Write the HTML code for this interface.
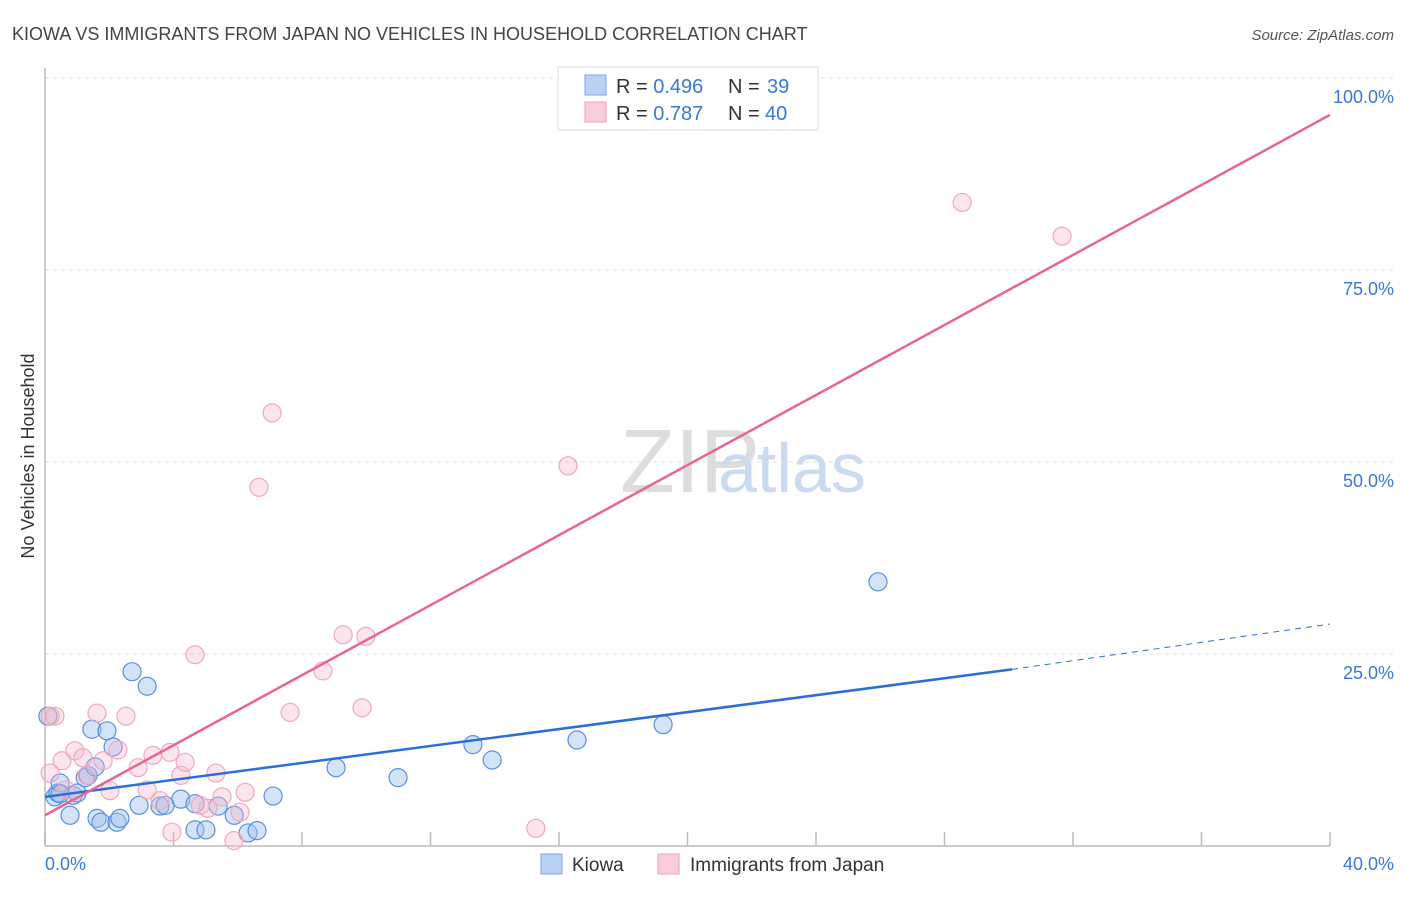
<!DOCTYPE html>
<html><head><meta charset="utf-8"><style>
body{margin:0;background:#fff;font-family:"Liberation Sans",sans-serif;}
svg text{font-family:"Liberation Sans",sans-serif;}
</style></head><body>
<svg id="chart" width="1406" height="892" viewBox="0 0 1406 892" xmlns="http://www.w3.org/2000/svg">
<text x="12" y="40" font-size="18" fill="#444">KIOWA VS IMMIGRANTS FROM JAPAN NO VEHICLES IN HOUSEHOLD CORRELATION CHART</text>
<text x="1394" y="40" font-size="15" fill="#555" text-anchor="end" font-style="italic">Source: ZipAtlas.com</text>
<text x="620" y="492" font-size="90" fill="#ddd" font-family="Liberation Serif">ZIP</text>
<text x="718" y="492" font-size="70" fill="#c9daf2">atlas</text>
<g id="grid"></g>
<g id="axes"></g>
<g id="marks"></g>
<text transform="translate(34,456) rotate(-90)" font-size="18" fill="#333" text-anchor="middle">No Vehicles in Household</text>
<text x="45" y="870" font-size="18" fill="#3a78d8">0.0%</text>
<text x="1394" y="870" font-size="18" fill="#3a78d8" text-anchor="end">40.0%</text>
<g>
<rect x="558" y="67" width="260" height="63" fill="#fff" stroke="#ddd"/>
<rect x="585" y="75" width="21" height="20" fill="#b9d2f3" stroke="#7aa5e6"/>
<rect x="585" y="102" width="21" height="20" fill="#fbccd9" stroke="#f0a0b8"/>
<text x="616" y="93" font-size="20" fill="#333">R = <tspan fill="#3a78d8">0.496</tspan><tspan x="728">N = </tspan><tspan x="767" fill="#3a78d8">39</tspan></text>
<text x="616" y="120" font-size="20" fill="#333">R = <tspan fill="#3a78d8">0.787</tspan><tspan x="728">N = </tspan><tspan x="765" fill="#3a78d8">40</tspan></text>
</g>
<g>
<rect x="541" y="854" width="21" height="20" fill="#b9d2f3" stroke="#7aa5e6"/>
<text x="572" y="871" font-size="19" fill="#333">Kiowa</text>
<rect x="658" y="854" width="21" height="20" fill="#fbccd9" stroke="#f0a0b8"/>
<text x="690" y="871" font-size="19" fill="#333">Immigrants from Japan</text>
</g>
</svg>
<script>
const blueX=[0.09,0.31,0.40,0.47,0.78,0.87,1.0,1.25,1.34,1.46,1.56,1.62,1.74,1.93,2.12,2.24,2.33,2.71,2.93,3.18,3.58,3.74,4.23,4.67,4.67,5.01,5.39,5.89,6.32,6.60,7.10,9.06,10.99,13.32,13.92,16.56,19.24,25.93,0.47];
const blueY=[16.9,6.4,6.9,8.2,4.0,6.6,6.9,8.9,9.2,15.2,10.3,3.6,3.1,15.0,12.9,3.1,3.6,22.7,5.3,20.8,5.2,5.3,6.1,2.1,5.5,2.1,5.2,4.0,1.7,2.0,6.5,10.2,8.9,13.2,11.2,13.8,15.8,34.4,6.8];
const pinkX=[0.16,0.31,0.16,0.53,0.65,0.93,1.18,1.31,1.62,1.81,2.02,2.27,2.52,2.90,3.18,3.36,3.58,3.89,3.95,4.23,4.36,4.67,4.83,5.07,5.32,5.51,5.88,6.07,6.23,6.66,7.07,7.63,8.65,9.28,9.87,9.99,15.28,16.28,28.55,31.66];
const pinkY=[16.9,16.9,9.5,11.1,7.3,12.4,11.5,9.2,17.3,11.1,7.2,12.5,16.9,10.2,7.3,11.8,5.9,12.2,1.8,9.2,10.9,24.9,5.3,4.9,9.5,6.4,0.7,4.4,7.0,46.7,56.4,17.4,22.8,27.5,18.0,27.3,2.3,49.5,83.8,79.4];
const blueLine=[0,6.4,30.1,23.0,40,28.9];
const pinkLine=[0,4.0,40,95.2];
const yTicks=[25,50,75,100];
const yTickLabels=["25.0%","50.0%","75.0%","100.0%"];
const xTicks=[0,4,8,12,16,20,24,28,32,36,40];
const NS="http://www.w3.org/2000/svg";
const sx=v=>45+v*(1285/40);
const sy=v=>846-v*7.68;
function mk(tag,attrs,parent){const e=document.createElementNS(NS,tag);for(const k in attrs)e.setAttribute(k,attrs[k]);parent.appendChild(e);return e;}
const grid=document.getElementById('grid'),axes=document.getElementById('axes'),marks=document.getElementById('marks');
yTicks.forEach((t,i)=>{
 const l=mk('line',{x1:45,x2:1394,y1:sy(t),y2:sy(t),stroke:'#ddd','stroke-dasharray':'4,4'},grid);
 
 
 const tx=mk('text',{x:1394,y:sy(t)+25,'font-size':18,fill:'#3a78d8','text-anchor':'end'},grid);
 tx.textContent=yTickLabels[i];
 
 
});
const xa=mk('line',{x1:45,x2:1330,y1:846,y2:846,stroke:'#bbb','stroke-width':1.5},axes);


const ya=mk('line',{x1:45,x2:45,y1:68,y2:846,stroke:'#bbb','stroke-width':1.5},axes);


xTicks.forEach(t=>{
 const l=mk('line',{x1:sx(t),x2:sx(t),y1:832,y2:846,stroke:'#bbb','stroke-width':1.5},axes);
 
 
});
blueX.forEach((x,i)=>{
 const c=mk('circle',{cx:sx(x),cy:sy(blueY[i]),r:9,fill:'rgba(160,196,240,0.45)',stroke:'#5a8fe0','stroke-width':1.2},marks);
 
 
});
pinkX.forEach((x,i)=>{
 const c=mk('circle',{cx:sx(x),cy:sy(pinkY[i]),r:9,fill:'rgba(245,180,200,0.35)',stroke:'#f0a8be','stroke-width':1.2},marks);
 
 
});
const bl=mk('line',{x1:sx(blueLine[0]),y1:sy(blueLine[1]),x2:sx(blueLine[2]),y2:sy(blueLine[3]),stroke:'#2b6fd6','stroke-width':2.5},marks);


const bd=mk('line',{x1:sx(blueLine[2]),y1:sy(blueLine[3]),x2:sx(blueLine[4]),y2:sy(blueLine[5]),stroke:'#2b6fd6','stroke-width':1,'stroke-dasharray':'6,5'},marks);


const pl=mk('line',{x1:sx(pinkLine[0]),y1:sy(pinkLine[1]),x2:sx(pinkLine[2]),y2:sy(pinkLine[3]),stroke:'#e8668e','stroke-width':2.5},marks);


</script>
</body></html>
